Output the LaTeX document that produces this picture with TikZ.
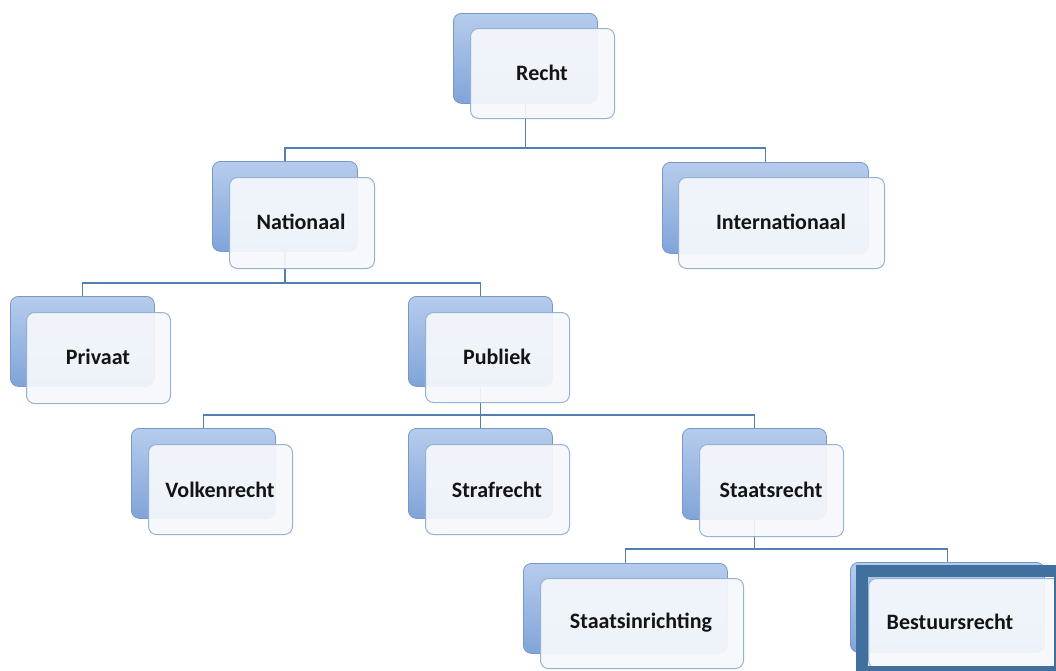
\documentclass[tikz,border=0pt]{standalone}
\usepackage{fontspec}
\setmainfont{Carlito}
\definecolor{backtop}{RGB}{182,204,236}
\definecolor{backbot}{RGB}{128,164,217}
\definecolor{backline}{RGB}{120,152,200}
\definecolor{frontfill}{RGB}{246,248,252}
\definecolor{frontline}{RGB}{150,178,210}
\definecolor{conn}{RGB}{82,126,176}
\definecolor{hilite}{RGB}{65,112,158}
\tikzset{
  backbox/.style={rectangle, rounded corners=8pt, draw=backline, line width=0.8pt,
    top color=backtop, bottom color=backbot, anchor=north west, inner sep=0pt},
  frontbox/.style={rectangle, rounded corners=8pt, draw=frontline, line width=1pt,
    fill=frontfill, fill opacity=0.93, text opacity=1, anchor=north west, inner sep=0pt},
  lbl/.style={font=\fontsize{22}{24}\selectfont\bfseries, text=black!92, inner sep=0pt},
  conline/.style={draw=conn, line width=1.6pt},
}
\begin{document}
\begin{tikzpicture}[x=1pt,y=-1pt]
\useasboundingbox (0,0) rectangle (1056,670);
% back boxes
\node[backbox, minimum width=144, minimum height=90] (rb) at (453,13) {};
\node[backbox, minimum width=145, minimum height=90] (nb) at (212,161) {};
\node[backbox, minimum width=206, minimum height=91] (ib) at (662,162) {};
\node[backbox, minimum width=144, minimum height=90] (pvb) at (10,296) {};
\node[backbox, minimum width=144, minimum height=90] (pbb) at (408,296) {};
\node[backbox, minimum width=144, minimum height=90] (vb) at (131,428) {};
\node[backbox, minimum width=144, minimum height=90] (sfb) at (408,428) {};
\node[backbox, minimum width=144, minimum height=91] (srb) at (682,428) {};
\node[backbox, minimum width=204, minimum height=90] (sib) at (523,563) {};
\node[backbox, minimum width=194, minimum height=90] (bsb) at (850,562) {};
% bus coordinates
\coordinate (bus1) at (0,148);
\coordinate (bus2) at (0,283);
\coordinate (bus3) at (0,415);
\coordinate (bus4) at (0,549);
% connectors
\draw[conline] (rb.south) -- (rb.south |- bus1) -| (nb.north);
\draw[conline] (rb.south |- bus1) -| (ib.north);
\draw[conline] (nb.south) -- (nb.south |- bus2) -| (pvb.north);
\draw[conline] (nb.south |- bus2) -| (pbb.north);
\draw[conline] (pbb.south) -- (pbb.south |- bus3) -| (vb.north);
\draw[conline] (pbb.south |- bus3) -| (sfb.north);
\draw[conline] (pbb.south |- bus3) -| (srb.north);
\draw[conline] (srb.south) -- (srb.south |- bus4) -| (sib.north);
\draw[conline] (srb.south |- bus4) -| (bsb.north);
% front boxes
\node[frontbox, minimum width=144, minimum height=90] (rf) at (470,28) {};
\node[frontbox, minimum width=145, minimum height=91] (nf) at (229,177) {};
\node[frontbox, minimum width=206, minimum height=91] (if) at (678,177) {};
\node[frontbox, minimum width=144, minimum height=91] (pvf) at (26,312) {};
\node[frontbox, minimum width=144, minimum height=90] (pbf) at (425,312) {};
\node[frontbox, minimum width=144, minimum height=90] (vf) at (148,444) {};
\node[frontbox, minimum width=144, minimum height=90] (sff) at (425,444) {};
\node[frontbox, minimum width=144, minimum height=92] (srf) at (699,444) {};
\node[frontbox, minimum width=203, minimum height=90] (sif) at (540,578) {};
\node[frontbox, minimum width=194, minimum height=90] (bsf) at (868,578) {};
% highlight frame
\draw[hilite, line width=12pt] (862,571) rectangle (1060,672);
% labels
\node[lbl] (rt) at (542,73) {Recht};
\node[lbl] (nt) at (301,222) {Nationaal};
\node[lbl] (it) at (781,222) {Internationaal};
\node[lbl] (pvt) at (98,357) {Privaat};
\node[lbl] (pbt) at (497,357) {Publiek};
\node[lbl] (vt) at (220,490) {Volkenrecht};
\node[lbl] (sft) at (497,490) {Strafrecht};
\node[lbl] (srt) at (771,490) {Staatsrecht};
\node[lbl] (sit) at (641,623) {Staatsinrichting};
\node[lbl] (bst) at (950,622) {Bestuursrecht};
\end{tikzpicture}
\end{document}
